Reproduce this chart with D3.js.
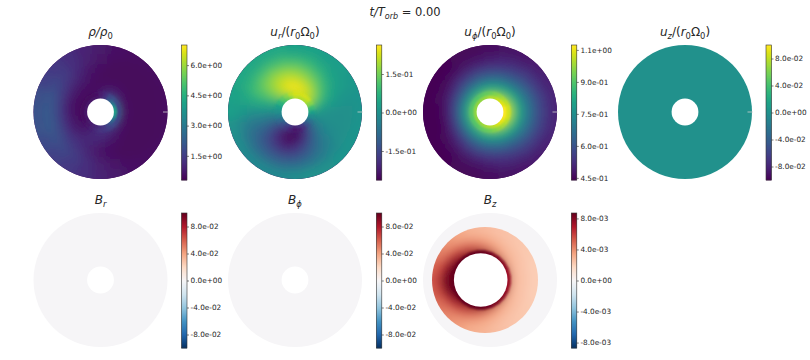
<!DOCTYPE html>
<html>
<head>
<meta charset="utf-8">
<script src="https://cdn.jsdelivr.net/npm/d3@7"></script>
<style>
  html, body { margin: 0; padding: 0; background: #fff; }
  svg { display: block; }
  text { font-family: "DejaVu Sans", sans-serif; fill: #262626; }
  .tick line { stroke: #262626; stroke-width: 0.6; }
</style>
</head>
<body>
<div id="chart"></div>
<script>
// polar field grids: one row per ring (inner to outer), one column per 15 degrees
// going counterclockwise from east. values.
var ringEdges = [1, 1.25, 1.5, 1.9, 2.4, 3, 3.6, 4.3, 5];

var rhoGrid = [
  [4.2, 3.9, 3.2, 2.6, 2.0, 1.3, 0.9, 0.7, 0.7, 0.7, 0.7, 0.7, 0.7, 0.7, 0.7, 0.8, 0.9, 1.0, 1.2, 1.4, 1.7, 2.2, 2.8, 3.7],
  [1.5, 1.5, 1.7, 1.9, 1.7, 1.1, 0.8, 0.6, 0.5, 0.5, 0.5, 0.5, 0.5, 0.5, 0.6, 0.7, 0.9, 1.1, 1.3, 1.4, 1.6, 1.7, 1.6, 1.5],
  [0.7, 0.7, 0.8, 1.0, 1.0, 0.8, 0.6, 0.5, 0.5, 0.5, 0.5, 0.5, 0.5, 0.5, 0.6, 0.7, 0.9, 1.1, 1.2, 1.1, 1.0, 0.85, 0.75, 0.7],
  [0.5, 0.5, 0.5, 0.6, 0.6, 0.5, 0.5, 0.5, 0.6, 0.6, 0.6, 0.6, 0.6, 0.7, 0.7, 0.8, 1.0, 1.1, 1.0, 0.8, 0.7, 0.6, 0.5, 0.5],
  [0.45, 0.45, 0.45, 0.45, 0.45, 0.45, 0.5, 0.6, 0.8, 0.9, 1.0, 1.0, 1.1, 1.1, 1.1, 1.2, 1.1, 0.9, 0.7, 0.6, 0.5, 0.45, 0.45, 0.45],
  [0.45, 0.45, 0.45, 0.45, 0.45, 0.45, 0.55, 0.7, 1.0, 1.3, 1.5, 1.7, 1.8, 1.8, 1.7, 1.5, 1.3, 1.0, 0.7, 0.55, 0.45, 0.45, 0.45, 0.45],
  [0.45, 0.45, 0.45, 0.45, 0.45, 0.5, 0.65, 0.9, 1.2, 1.5, 1.8, 2.1, 2.2, 2.2, 2.0, 1.8, 1.5, 1.2, 0.9, 0.65, 0.5, 0.45, 0.45, 0.45],
  [0.5, 0.5, 0.5, 0.5, 0.55, 0.6, 0.75, 0.95, 1.2, 1.4, 1.6, 1.9, 2.0, 2.0, 1.8, 1.6, 1.4, 1.2, 0.95, 0.75, 0.6, 0.55, 0.5, 0.5]
];

var urGrid = [
  [0.05, 0.10, 0.17, 0.20, 0.20, 0.20, 0.21, 0.17, 0.14, 0.11, 0.07, 0.03, 0, -0.03, -0.07, -0.11, -0.15, -0.18, -0.21, -0.19, -0.17, -0.12, -0.07, -0.01],
  [0.03, 0.10, 0.17, 0.22, 0.23, 0.23, 0.23, 0.21, 0.17, 0.13, 0.08, 0.03, 0, -0.04, -0.09, -0.14, -0.18, -0.21, -0.23, -0.22, -0.19, -0.13, -0.07, -0.01],
  [0.02, 0.08, 0.15, 0.20, 0.23, 0.25, 0.25, 0.24, 0.21, 0.16, 0.10, 0.04, 0, -0.05, -0.11, -0.17, -0.22, -0.25, -0.26, -0.24, -0.18, -0.11, -0.05, -0.01],
  [0.01, 0.05, 0.11, 0.16, 0.20, 0.23, 0.25, 0.25, 0.22, 0.18, 0.12, 0.05, 0, -0.05, -0.11, -0.17, -0.22, -0.25, -0.24, -0.20, -0.14, -0.08, -0.03, 0],
  [0, 0.03, 0.07, 0.11, 0.15, 0.18, 0.20, 0.21, 0.20, 0.17, 0.12, 0.06, 0, -0.05, -0.10, -0.15, -0.19, -0.21, -0.19, -0.15, -0.10, -0.05, -0.02, 0],
  [0, 0.02, 0.04, 0.07, 0.10, 0.13, 0.15, 0.16, 0.16, 0.14, 0.11, 0.06, 0, -0.05, -0.09, -0.12, -0.14, -0.15, -0.14, -0.11, -0.07, -0.04, -0.01, 0],
  [0, 0.01, 0.03, 0.04, 0.06, 0.08, 0.09, 0.10, 0.10, 0.09, 0.08, 0.05, 0.02, -0.03, -0.06, -0.08, -0.09, -0.09, -0.08, -0.06, -0.04, -0.02, 0, 0],
  [0.01, 0.01, 0.02, 0.03, 0.03, 0.04, 0.04, 0.05, 0.05, 0.05, 0.05, 0.04, 0.03, 0, -0.01, -0.02, -0.02, -0.02, -0.01, 0, 0, 0.01, 0.01, 0.01]
];

var uphiGrid = [
  [1.07, 1.07, 1.05, 1.04, 1.02, 1.00, 1.00, 0.98, 0.97, 0.97, 0.97, 0.97, 0.97, 0.97, 0.97, 0.97, 0.98, 0.99, 1.00, 1.01, 1.03, 1.05, 1.06, 1.07],
  [1.03, 1.03, 1.01, 0.99, 0.97, 0.95, 0.93, 0.92, 0.91, 0.90, 0.90, 0.90, 0.90, 0.90, 0.90, 0.90, 0.91, 0.92, 0.93, 0.95, 0.97, 0.99, 1.01, 1.03],
  [0.95, 0.94, 0.92, 0.90, 0.88, 0.86, 0.85, 0.84, 0.83, 0.82, 0.82, 0.82, 0.82, 0.82, 0.82, 0.82, 0.83, 0.84, 0.85, 0.86, 0.88, 0.90, 0.92, 0.94],
  [0.82, 0.82, 0.81, 0.79, 0.77, 0.75, 0.74, 0.73, 0.72, 0.71, 0.70, 0.70, 0.70, 0.70, 0.70, 0.71, 0.72, 0.73, 0.74, 0.75, 0.77, 0.79, 0.81, 0.82],
  [0.72, 0.71, 0.70, 0.68, 0.66, 0.65, 0.63, 0.62, 0.61, 0.60, 0.59, 0.58, 0.57, 0.57, 0.58, 0.59, 0.61, 0.62, 0.63, 0.65, 0.66, 0.68, 0.70, 0.71],
  [0.63, 0.63, 0.62, 0.60, 0.58, 0.56, 0.55, 0.54, 0.53, 0.52, 0.50, 0.49, 0.48, 0.48, 0.49, 0.51, 0.53, 0.54, 0.55, 0.56, 0.58, 0.60, 0.62, 0.63],
  [0.56, 0.56, 0.55, 0.54, 0.52, 0.51, 0.49, 0.48, 0.47, 0.46, 0.45, 0.45, 0.44, 0.44, 0.45, 0.46, 0.47, 0.48, 0.49, 0.51, 0.52, 0.54, 0.55, 0.56],
  [0.51, 0.51, 0.50, 0.49, 0.48, 0.47, 0.46, 0.45, 0.45, 0.44, 0.44, 0.44, 0.44, 0.44, 0.44, 0.44, 0.45, 0.45, 0.46, 0.47, 0.48, 0.49, 0.50, 0.51]
];

// Bz sits in a ring between two off-centre circles, bands go inner circle to outer circle
var bzBandEdges = [0, 0.1, 0.25, 0.45, 0.7, 1];

var bzGrid = [
  [0.0075, 0.0075, 0.0078, 0.008, 0.0082, 0.0085, 0.0087, 0.0087, 0.0087, 0.0087, 0.0087, 0.0087, 0.0087, 0.0087, 0.0087, 0.0087, 0.0087, 0.0087, 0.0087, 0.0085, 0.0082, 0.008, 0.0078, 0.0075],
  [0.003, 0.003, 0.0032, 0.0036, 0.0042, 0.005, 0.0058, 0.0066, 0.0074, 0.008, 0.0086, 0.0087, 0.0087, 0.0087, 0.0087, 0.008, 0.0074, 0.0066, 0.0058, 0.005, 0.0042, 0.0036, 0.0032, 0.003],
  [0.0027, 0.0027, 0.0028, 0.003, 0.0033, 0.0037, 0.0043, 0.005, 0.0058, 0.0068, 0.0078, 0.0086, 0.0087, 0.0087, 0.0078, 0.0068, 0.0058, 0.005, 0.0043, 0.0037, 0.0033, 0.003, 0.0028, 0.0027],
  [0.0025, 0.0025, 0.0026, 0.0027, 0.0028, 0.0031, 0.0034, 0.0038, 0.0044, 0.0052, 0.006, 0.007, 0.0078, 0.0074, 0.0062, 0.0054, 0.0046, 0.0039, 0.0034, 0.0031, 0.0028, 0.0027, 0.0026, 0.0025],
  [0.0022, 0.0022, 0.0023, 0.0024, 0.0025, 0.0026, 0.0028, 0.003, 0.0034, 0.0039, 0.0045, 0.0052, 0.0056, 0.0054, 0.0048, 0.0042, 0.0037, 0.0032, 0.003, 0.0027, 0.0025, 0.0024, 0.0023, 0.0022]
];

var rhoTicks = [1.5, 3.0, 4.5, 6.0];
var urTicks = [-0.15, 0, 0.15];
var uphiTicks = [0.45, 0.6, 0.75, 0.9, 1.05];
var zeroTicks = [-0.08, -0.04, 0, 0.04, 0.08];
var bzTicks = [-0.008, -0.004, 0, 0.004, 0.008];

var rdbuStops = ["#053061", "#2166ac", "#4393c3", "#92c5de", "#d1e5f0", "#f6f5f7",
                 "#fddbc7", "#f4a582", "#d6604d", "#b2182b", "#67001f"];

var width = 810;
var height = 360;
var discR = 67;
var holeR = 13.4;

var rScale = d3.scaleLinear().domain([1, 5]).range([holeR, discR]);

var viridis = d3.interpolateViridis;
var rdbu = d3.piecewise(d3.interpolateRgb, rdbuStops);

// x/y is the disc centre, barX the left edge of the colorbar
var panels = [
  {title: [["ρ", "i"], ["/", "i"], ["ρ", "i"], ["0", "s"]], x: 100.5, y: 112, barX: 181.5, domain: [0.3, 7.0], ticks: rhoTicks, cmap: viridis, grid: rhoGrid},
  {title: [["u", "i"], ["r", "si"], ["/(", ""], ["r", "i"], ["0", "s"], ["Ω", ""], ["0", "s"], [")", ""]], x: 295, y: 112, barX: 376.3, domain: [-0.263, 0.263], ticks: urTicks, cmap: viridis, grid: urGrid},
  {title: [["u", "i"], ["ϕ", "si"], ["/(", ""], ["r", "i"], ["0", "s"], ["Ω", ""], ["0", "s"], [")", ""]], x: 490, y: 112, barX: 571.3, domain: [0.44, 1.073], ticks: uphiTicks, cmap: viridis, grid: uphiGrid},
  {title: [["u", "i"], ["z", "si"], ["/(", ""], ["r", "i"], ["0", "s"], ["Ω", ""], ["0", "s"], [")", ""]], x: 685, y: 112, barX: 766, domain: [-0.1, 0.1], ticks: zeroTicks, cmap: viridis, flat: 0},
  {title: [["B", "i"], ["r", "si"]], x: 100.5, y: 280, barX: 181.5, domain: [-0.1, 0.1], ticks: zeroTicks, cmap: rdbu, flat: 0},
  {title: [["B", "i"], ["ϕ", "si"]], x: 295, y: 280, barX: 376.3, domain: [-0.1, 0.1], ticks: zeroTicks, cmap: rdbu, flat: 0},
  {title: [["B", "i"], ["z", "si"]], x: 490, y: 280, barX: 571.3, domain: [-0.0087, 0.0087], ticks: bzTicks, cmap: rdbu, flat: 0, ring: bzGrid}
];

var svg = d3.select("#chart").append("svg")
    .attr("width", width)
    .attr("height", height)
    .attr("viewBox", "0 0 " + width + " " + height);

var defs = svg.append("defs");

function addBlur(id, amount) {
    defs.append("filter")
        .attr("id", id)
        .attr("filterUnits", "userSpaceOnUse")
        .attr("x", 0).attr("y", 0).attr("width", width).attr("height", height)
      .append("feGaussianBlur")
        .attr("stdDeviation", amount);
}
addBlur("smooth", 5);
addBlur("fine", 1.2);

function sciFormat(v) {
    // matplotlib style %.1e, two digit exponent
    return v.toExponential(1).replace(/e([+-])(\d)$/, function(m, sign, digit) {
        return "e" + sign + "0" + digit;
    });
}

// writes a mathtext like title out of tspans, "i" italic, "s" subscript
function mathText(sel, parts, subSize) {
    parts.forEach(function(p, i) {
        var isSub = p[1].indexOf("s") >= 0;
        var prevSub = i > 0 && parts[i - 1][1].indexOf("s") >= 0;
        sel.append("tspan")
            .attr("dy", isSub ? (prevSub ? 0 : 3) : (prevSub ? -3 : 0))
            .style("font-size", isSub ? subSize : null)
            .style("font-style", p[1].indexOf("i") >= 0 ? "italic" : "normal")
            .text(p[0]);
    });
}

// group that blurs its cells, the translate pair keeps the filter region in page pixels
function blurLayer(parent, p, filterId) {
    return parent.append("g").attr("filter", "url(#" + filterId + ")")
        .attr("transform", "translate(" + -p.x + "," + -p.y + ")")
      .append("g").attr("transform", "translate(" + p.x + "," + p.y + ")");
}

function drawDisc(g, p, color, id) {
    g.append("circle")
        .attr("r", discR)
        .attr("fill", color(p.flat === undefined ? p.domain[0] : p.flat));

    if (p.grid) {
        defs.append("clipPath").attr("id", id)
          .append("circle").attr("r", discR);

        var clipped = g.append("g").attr("clip-path", "url(#" + id + ")");
        drawRings(blurLayer(clipped, p, "smooth"), p.grid, color);
        // the first rings get less blur, the rim of the hole is sharp in the picture
        drawRings(blurLayer(clipped, p, "fine"), p.grid.slice(0, 2), color);
    }

    if (p.ring) {
        drawBzRing(g, p, color, id);
    }

    g.append("circle").attr("r", holeR).attr("fill", "#fff");
}

function drawRings(layer, rows, color) {
    var angle = d3.scaleLinear().domain([0, 24]).range([Math.PI / 2, -3 * Math.PI / 2]);
    var arc = d3.arc();

    rows.forEach(function(row, i) {
        // first and last ring reach past the disc so the blur keeps its edge
        var r0 = i == 0 ? 0 : rScale(ringEdges[i]);
        var r1 = i == ringEdges.length - 2 ? discR + 16 : rScale(ringEdges[i + 1]);
        layer.selectAll(null)
            .data(row)
          .enter().append("path")
            .attr("d", function(d, j) {
                return arc({
                    innerRadius: r0,
                    outerRadius: r1,
                    startAngle: angle(j + 0.5),
                    endAngle: angle(j - 0.5)
                });
            })
            .attr("fill", function(d) { return color(d); })
            .attr("stroke", function(d) { return color(d); })
            .attr("stroke-width", 0.6);
    });
}

// Bz ring between the off centre inner circle and the outer one
function drawBzRing(g, p, color, id) {
    var inner = {cx: -9.3, r: 26.8};
    var outer = {cx: -5, r: 53};
    var angle = d3.scaleLinear().domain([0, 24]).range([0, -2 * Math.PI]);
    var line = d3.line();

    function meshPoint(t, a) {
        var x0 = inner.cx + inner.r * Math.cos(a), y0 = inner.r * Math.sin(a);
        var x1 = outer.cx + outer.r * Math.cos(a), y1 = outer.r * Math.sin(a);
        return [x0 + (x1 - x0) * t, y0 + (y1 - y0) * t];
    }

    function drawBands(layer, rows) {
        rows.forEach(function(row, i) {
            var t0 = i == 0 ? -0.4 : bzBandEdges[i];
            var t1 = i == p.ring.length - 1 ? 1.4 : bzBandEdges[i + 1];
            layer.selectAll(null)
                .data(row)
              .enter().append("path")
                .attr("d", function(d, j) {
                    var a0 = angle(j - 0.5), a1 = angle(j + 0.5);
                    return line([meshPoint(t0, a0), meshPoint(t1, a0), meshPoint(t1, a1), meshPoint(t0, a1)]) + "Z";
                })
                .attr("fill", function(d) { return color(d); })
                .attr("stroke", function(d) { return color(d); })
                .attr("stroke-width", 0.6);
        });
    }

    defs.append("clipPath").attr("id", id + "-ring")
      .append("circle").attr("cx", outer.cx).attr("r", outer.r);

    var clipped = g.append("g").attr("clip-path", "url(#" + id + "-ring)");
    drawBands(blurLayer(clipped, p, "smooth"), p.ring);
    drawBands(blurLayer(clipped, p, "fine"), p.ring.slice(0, 1));

    g.append("circle")
        .attr("cx", inner.cx)
        .attr("r", inner.r)
        .attr("fill", "#fff");
}

function drawColorbar(p, color) {
    var barH = 135;
    var barW = 5.5;
    var top = p.y - 67;

    var y = d3.scaleLinear().domain(p.domain).range([top + barH, top]);
    var steps = d3.range(0, 135);
    var step = d3.scaleLinear().domain([0, 135]).range(p.domain);
    var bar = svg.append("g").attr("class", "colorbar");

    bar.selectAll("rect")
        .data(steps)
      .enter().append("rect")
        .attr("x", p.barX)
        .attr("y", function(d) { return y(step(d + 1)); })
        .attr("width", barW)
        .attr("height", function(d) { return y(step(d)) - y(step(d + 1)) + 0.4; })
        .attr("fill", function(d) { return color(step(d + 0.5)); });

    bar.append("rect")
        .attr("x", p.barX)
        .attr("y", top)
        .attr("width", barW)
        .attr("height", barH)
        .attr("fill", "none")
        .attr("stroke", "#333")
        .attr("stroke-width", 0.6);

    var axis = d3.axisRight(y)
        .tickValues(p.ticks)
        .tickFormat(sciFormat)
        .tickSize(2)
        .tickPadding(1.6);

    bar.append("g")
        .attr("transform", "translate(" + (p.barX + barW) + ",0)")
        .call(axis)
        .call(function(a) { a.select(".domain").remove(); })
        .selectAll("text")
        .style("font-size", "7.3px")
        .style("font-family", '"DejaVu Sans", sans-serif');
}

panels.forEach(function(p, k) {
    var color = d3.scaleSequential(p.cmap).domain(p.domain);
    var g = svg.append("g")
        .attr("class", "panel")
        .attr("transform", "translate(" + p.x + "," + p.y + ")");

    drawDisc(g, p, color, "disc" + k);

    // small stray mark on the east edge of the top row discs
    if (p.y < 200) {
        g.append("line")
            .attr("x1", discR - 4.5)
            .attr("x2", discR + 1)
            .attr("stroke", "#cfcfcf")
            .attr("stroke-width", 0.8);
    }

    svg.append("text")
        .attr("x", p.x)
        .attr("y", p.y - 76)
        .attr("text-anchor", "middle")
        .style("font-size", "12px")
        .call(mathText, p.title, "8.4px");

    drawColorbar(p, color);
});

svg.append("text")
    .attr("x", 405)
    .attr("y", 16)
    .attr("text-anchor", "middle")
    .style("font-size", "11.5px")
    .call(mathText, [["t", "i"], ["/", "i"], ["T", "i"], ["orb", "si"], [" = 0.00", ""]], "8px");
</script>
</body>
</html>
